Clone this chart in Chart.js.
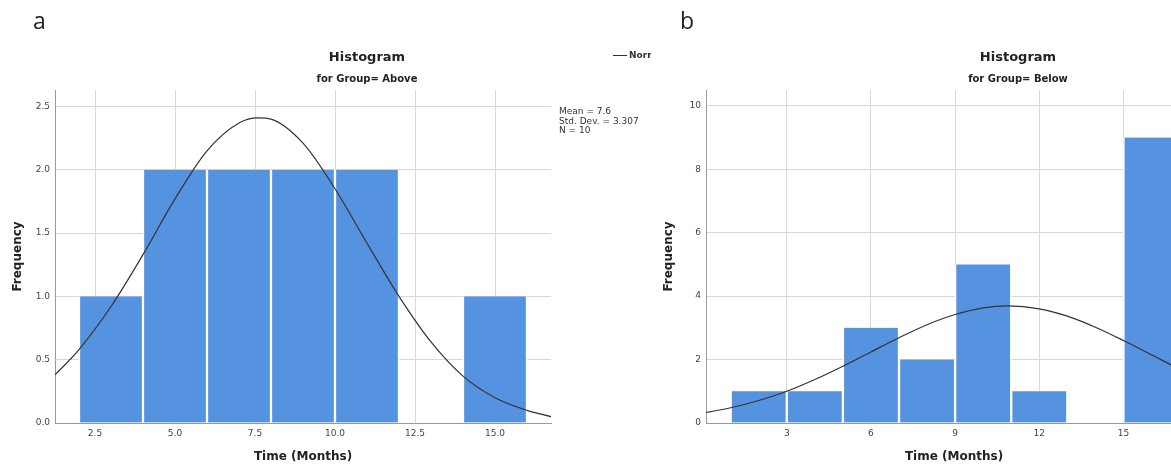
<!DOCTYPE html>
<html>
<head>
<meta charset="utf-8">
<script src="https://cdn.jsdelivr.net/npm/chart.js@4/dist/chart.umd.min.js"></script>
<style>
  body { margin: 0; background: #fff; }
  #page { position: relative; width: 1171px; height: 468px; overflow: hidden; background: #fff; }
  .panel { position: absolute; top: 0; width: 734px; height: 468px; background: #fff; }
  #panelA { left: 0; }
  #panelB { left: 651px; }
  .tag { position: absolute; top: 4px; font: 23px "Open Sans", sans-serif; color: #222; }
</style>
</head>
<body>
<div id="page">
  <div class="panel" id="panelA"><canvas id="histA"></canvas></div>
  <div class="panel" id="panelB"><canvas id="histB"></canvas></div>
  <div class="tag" style="left:33px">a</div>
  <div class="tag" style="left:680px">b</div>
</div>
<script>
// PANEL A - Group = Above (bins of 2 months, x = bin middle)
const binMidsA = [3, 5, 7, 9, 11, 15];
const countsA = [1, 2, 2, 2, 2, 1];
const normalXA = [1.25, 2, 3, 4, 5, 6, 7, 7.6, 8, 9, 10, 11, 12, 13, 14, 15, 16, 16.75];
const normalYA = [0.38, 0.58, 0.92, 1.33, 1.77, 2.15, 2.37, 2.41, 2.40, 2.21, 1.85, 1.42, 1.00, 0.64, 0.37, 0.20, 0.10, 0.05];
const xTicksA = [2.5, 5, 7.5, 10, 12.5, 15];
const yTicksA = [0, 0.5, 1, 1.5, 2, 2.5];
const statsA = ['Mean = 7.6', 'Std. Dev. = 3.307', 'N = 10'];

// PANEL B - Group = Below
const binMidsB = [2, 4, 6, 8, 10, 12, 16];
const countsB = [1, 1, 3, 2, 5, 1, 9];
const normalXB = [0.12, 1, 2, 3, 4, 5, 6, 7, 8, 9, 10, 10.9, 12, 13, 14, 15, 16, 17, 17.8];
const normalYB = [0.33, 0.48, 0.71, 1.0, 1.37, 1.79, 2.24, 2.69, 3.10, 3.42, 3.63, 3.69, 3.60, 3.37, 3.02, 2.60, 2.15, 1.70, 1.37];
const xTicksB = [3, 6, 9, 12, 15];
const yTicksB = [0, 2, 4, 6, 8, 10];

const BAR = '#5592e0';
const GRID = '#d8d8d8';
const AXIS = '#9a9a9a';
const INK = '#222';

Chart.defaults.font.family = '"DejaVu Sans", sans-serif';

// stats box + normal legend, drawn in the space right of the plot
const notesPlugin = {
  id: 'notes',
  afterDraw(chart, args, opts) {
    const { ctx, chartArea } = chart;
    ctx.save();
    ctx.fillStyle = '#333';
    ctx.textBaseline = 'middle';
    ctx.font = '9px "DejaVu Sans"';
    (opts.lines || []).forEach((t, i) => ctx.fillText(t, chartArea.right + 8, 112 + i * 9.5));
    if (opts.legend) {
      ctx.strokeStyle = '#333';
      ctx.lineWidth = 1;
      ctx.beginPath();
      ctx.moveTo(chartArea.right + 62, 55.5);
      ctx.lineTo(chartArea.right + 76, 55.5);
      ctx.stroke();
      ctx.font = 'bold 9px "DejaVu Sans"';
      ctx.fillText(opts.legend, chartArea.right + 78, 55.5);
    }
    ctx.restore();
  }
};

function makeHist(id, o) {
  return new Chart(document.getElementById(id), {
    type: 'bar',
    plugins: [notesPlugin],
    data: {
      datasets: [{
        type: 'line',
        label: 'Normal',
        data: o.normalX.map((x, i) => ({ x: x, y: o.normalY[i] })),
        borderColor: '#333',
        borderWidth: 1.2,
        pointRadius: 0,
        cubicInterpolationMode: 'monotone',
        order: 0
      }, {
        label: 'Frequency',
        data: o.mids.map((x, i) => ({ x: x, y: o.counts[i] })),
        backgroundColor: BAR,
        borderColor: '#fff',
        borderWidth: { left: 1.5, right: 1.5, top: 0, bottom: 0 },
        barPercentage: 1,
        categoryPercentage: 1,
        order: 1
      }]
    },
    options: {
      responsive: true,
      maintainAspectRatio: false,
      animation: false,
      plugins: {
        legend: { display: false },
        tooltip: { enabled: false },
        title: {
          display: true, text: 'Histogram', color: INK,
          font: { size: 13, weight: 'bold' },
          padding: { top: 50, bottom: 8 }
        },
        subtitle: {
          display: true, text: o.subtitle, color: INK,
          font: { size: 10, weight: 'bold' },
          padding: { top: 0, bottom: 4.4 }
        },
        notes: { lines: o.stats, legend: 'Normal' }
      },
      scales: {
        x: {
          type: 'linear',
          min: o.xMin, max: o.xMax,
          offset: false,
          afterBuildTicks: s => { s.ticks = o.xTicks.map(v => ({ value: v })); },
          afterFit: s => { s.height = 45; },
          grid: { color: GRID, drawTicks: false, offset: false },
          border: { color: AXIS },
          ticks: { color: '#444', font: { size: 9 }, padding: 5, callback: o.xFmt },
          title: {
            display: true, text: 'Time (Months)', color: INK,
            font: { size: 12, weight: 'bold' }, padding: { top: 4, bottom: 4 }
          }
        },
        y: {
          min: 0, max: o.yMax,
          afterBuildTicks: s => { s.ticks = o.yTicks.map(v => ({ value: v })); },
          afterFit: s => { s.width = 55; },
          grid: { color: GRID, drawTicks: false },
          border: { color: AXIS },
          ticks: { color: '#444', font: { size: 9 }, padding: 5, callback: o.yFmt },
          title: {
            display: true, text: 'Frequency', color: INK,
            font: { size: 12, weight: 'bold' }, padding: { top: 11, bottom: 4 }
          }
        },
        yRight: {
          position: 'right',
          grid: { display: false },
          border: { display: false },
          ticks: { display: false },
          afterFit: s => { s.width = 183; }
        }
      }
    }
  });
}

makeHist('histA', {
  mids: binMidsA, counts: countsA,
  normalX: normalXA, normalY: normalYA,
  xTicks: xTicksA, yTicks: yTicksA,
  xMin: 1.25, xMax: 16.75, yMax: 2.63,
  xFmt: v => v.toFixed(1), yFmt: v => v.toFixed(1),
  subtitle: 'for Group= Above',
  stats: statsA
});

makeHist('histB', {
  mids: binMidsB, counts: countsB,
  normalX: normalXB, normalY: normalYB,
  xTicks: xTicksB, yTicks: yTicksB,
  xMin: 0.12, xMax: 17.8, yMax: 10.5,
  xFmt: v => String(v), yFmt: v => String(v),
  subtitle: 'for Group= Below',
  stats: []
});
</script>
</body>
</html>
